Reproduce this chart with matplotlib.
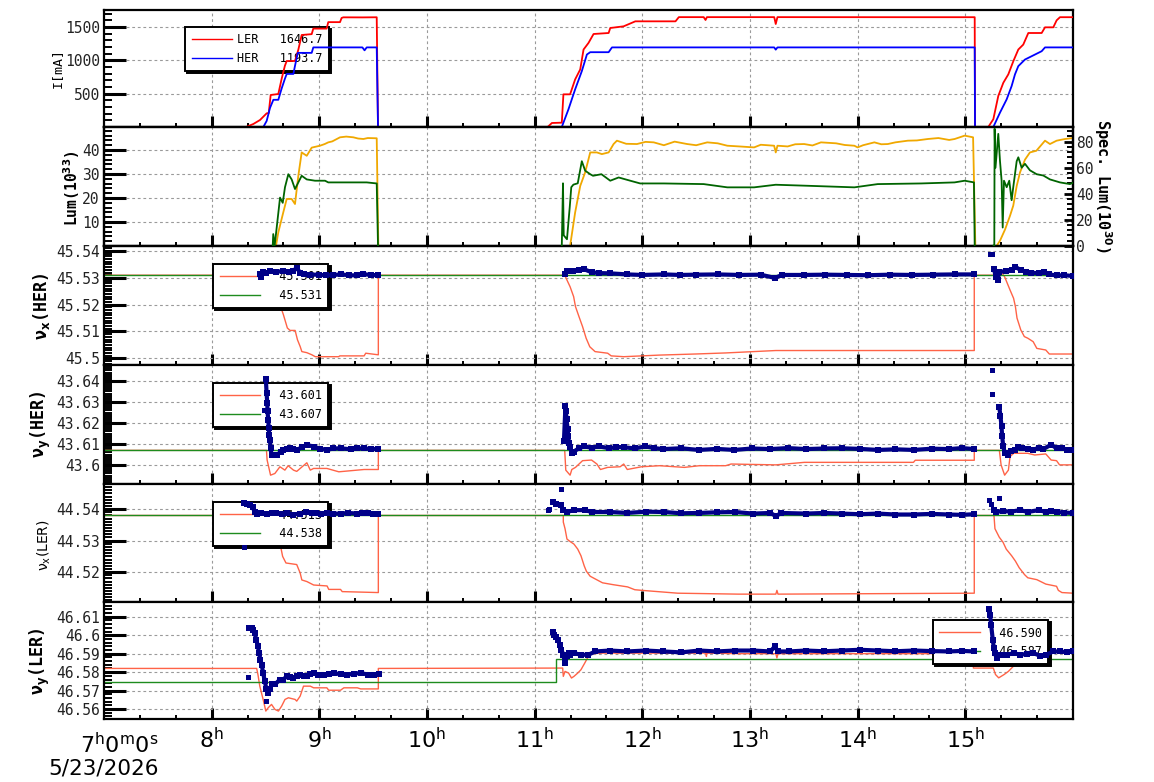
import matplotlib
matplotlib.use('Agg')
import matplotlib.pyplot as plt
from matplotlib.ticker import MultipleLocator, FixedLocator, FuncFormatter
from matplotlib.lines import Line2D

plt.rcParams['font.family'] = ['DejaVu Sans Mono', 'DejaVu Sans']
plt.rcParams['mathtext.fontset'] = 'dejavusans'

# ---------------- data (time in hours of 5/23/2026) ----------------
# Panel 1: beam currents [mA]
ler_cur_t = [7.0, 8.32, 8.387, 8.449, 8.511, 8.530, 8.548, 8.619, 8.65, 8.68, 8.697, 8.774, 8.805, 8.836, 8.929,
             8.944, 9.068, 9.083, 9.192, 9.207, 9.223, 9.40, 9.533, 9.545,
             11.12, 11.127, 11.16, 11.252, 11.267, 11.329, 11.376, 11.423, 11.454, 11.5, 11.547, 11.687, 11.702,
             11.826, 11.935, 12.308, 12.339, 12.57, 12.587, 12.60, 13.225, 13.239, 13.255, 14.5, 15.087, 15.09,
             15.213, 15.26, 15.306, 15.353, 15.399, 15.446, 15.492, 15.538, 15.585, 15.709, 15.74, 15.817, 15.848,
             15.879, 16.0]
ler_cur_v = [0, 0, 45, 105, 205, 210, 480, 495, 723, 918, 990, 990, 1160, 1380, 1393,
             1476, 1476, 1573, 1573, 1636, 1645, 1644, 1646, 0,
             0, 10, 60, 65, 490, 490, 714, 863, 1162, 1261, 1395, 1410, 1485,
             1510, 1585, 1585, 1648, 1648, 1605, 1648, 1648, 1545, 1648, 1647, 1647, 0,
             0, 117, 465, 664, 789, 988, 1162, 1236, 1410, 1410, 1495, 1495, 1600,
             1647, 1647]
her_cur_t = [7.0, 8.48, 8.511, 8.542, 8.573, 8.619, 8.65, 8.68, 8.697, 8.759, 8.774, 8.8, 8.929, 8.944, 9.40,
             9.42, 9.44, 9.533, 9.545,
             11.252, 11.314, 11.376, 11.438, 11.485, 11.516, 11.687, 11.718, 13.225, 13.239, 13.255, 15.087, 15.09,
             15.26, 15.322, 15.384, 15.43, 15.461, 15.492, 15.554, 15.647, 15.709, 15.74, 16.0]
her_cur_v = [0, 0, 92, 287, 408, 408, 578, 723, 796, 796, 918, 1112, 1112, 1194, 1194,
             1150, 1194, 1194, 0,
             0, 266, 565, 838, 1087, 1122, 1122, 1194, 1194, 1160, 1194, 1194, 0,
             0, 216, 415, 614, 789, 913, 1012, 1087, 1137, 1194, 1194]

# Panel 2: luminosity (left axis) and specific luminosity (right axis)
lum_t = [7.0, 8.597, 8.619, 8.665, 8.697, 8.743, 8.774, 8.805, 8.836, 8.883, 8.929, 9.006, 9.05, 9.083, 9.12,
         9.192, 9.25, 9.316, 9.36, 9.409, 9.45, 9.533, 9.548,
         11.329, 11.376, 11.423, 11.469, 11.516, 11.578, 11.624, 11.687, 11.733, 11.764, 11.85, 11.95, 12.03,
         12.106, 12.2, 12.3, 12.416, 12.5, 12.603, 12.7, 12.789, 12.9, 13.038, 13.1, 13.224, 13.239, 13.255,
         13.35, 13.42, 13.503, 13.58, 13.659, 13.8, 13.88, 13.969, 14.0, 14.05, 14.155, 14.22, 14.28, 14.35,
         14.466, 14.55, 14.652, 14.75, 14.85, 14.901, 14.994, 15.072, 15.093,
         15.29, 15.322, 15.37, 15.415, 15.445, 15.477, 15.508, 15.554, 15.60, 15.66, 15.74, 15.786, 15.848,
         15.926, 16.0]
lum_v = [0, 0, 5.7, 14, 19.6, 19.6, 17.5, 29.3, 39, 37.6, 41, 41.8, 42.5, 43.2, 43.6,
         45.3, 45.6, 45.3, 44.8, 44.6, 45.0, 44.9, 0,
         0, 14, 25, 30.7, 39, 39, 38.3, 39, 42.5, 43.9, 42.6, 42.5, 43.4,
         43.2, 42.0, 43.5, 42.5, 42.0, 43.2, 42.8, 41.8, 41.5, 41.1, 42.2, 41.8, 39, 41.8,
         41.5, 42.4, 42.5, 41.9, 43.2, 42.8, 42.1, 41.8, 41.1, 42.0, 43.2, 42.4, 42.5, 43.2,
         43.9, 44.0, 44.6, 45.0, 44.2, 44.6, 46, 45.3, 0,
         0, 2.2, 7, 12.6, 16.8, 25, 30.7, 36, 39, 39.7, 43.9, 42.5, 43.9,
         44.6, 45]
slum1_t = [8.567, 8.572, 8.585, 8.604, 8.635, 8.66, 8.681, 8.712, 8.743, 8.774, 8.805, 8.836, 8.883, 8.96,
           9.053, 9.083, 9.254, 9.44, 9.533, 9.545]
slum1_v = [0, 9, 0, 14, 37, 33, 45, 55, 51, 43.6, 48.7, 53.8, 51, 50,
           50, 48.7, 48.7, 48.7, 47.9, 0]
slum2_t = [11.252, 11.263, 11.27, 11.30, 11.326, 11.34, 11.36, 11.40, 11.438, 11.469, 11.516, 11.542, 11.62,
           11.702, 11.78, 11.888, 11.98, 12.2, 12.57, 12.789, 13.038, 13.239, 13.503, 13.969, 14.186, 14.59,
           14.90, 14.994, 15.08, 15.087]
slum2_v = [0, 48, 8, 5, 30, 45, 47, 48, 65, 57.7, 55, 53.8, 55,
           50, 52.5, 50, 47.9, 47.9, 47.4, 44.9, 44.9, 46.9, 46.2, 44.9, 47.4, 47.9,
           48.7, 50, 48.7, 0]
slum3_t = [15.262, 15.269, 15.272, 15.28, 15.306, 15.322, 15.337, 15.347, 15.359, 15.384, 15.408, 15.43, 15.445,
           15.477, 15.492, 15.523, 15.554, 15.60, 15.662, 15.724, 15.786, 15.879, 15.972, 16.0]
slum3_v = [0, 0, 90, 60, 86, 65, 50, 14, 50, 45, 50, 35, 45,
           65, 68, 60, 63, 58, 55, 54, 51, 48.7, 47.4, 48.5]

# Panel 3: nu_x(HER)
hx_set_t = [7.0, 16.0]
hx_set_v = [45.531, 45.531]
hx_ref_t = [7.0, 8.525, 8.547, 8.566, 8.5875, 8.619, 8.634, 8.666, 8.703, 8.728, 8.775, 8.797, 8.822, 8.8375,
            8.884, 8.931, 8.9625, 9.18, 9.19, 9.416, 9.431, 9.548, 9.548,
            11.279, 11.329, 11.362, 11.379, 11.412, 11.445, 11.478, 11.512, 11.561, 11.678, 11.711, 11.827,
            11.993, 12.16, 12.49, 12.774, 13.24, 15.083, 15.083,
            15.316, 15.32, 15.33, 15.365, 15.415, 15.448, 15.465, 15.48, 15.515, 15.548, 15.58, 15.63, 15.664,
            15.747, 15.78, 16.0]
hx_ref_v = [45.531, 45.531, 45.530, 45.5269, 45.5244, 45.5219, 45.520, 45.5163, 45.5113, 45.5104, 45.5104,
            45.5069, 45.5044, 45.5025, 45.5021, 45.5013, 45.5006, 45.5006, 45.5009, 45.5009, 45.5019, 45.5013,
            45.531,
            45.531, 45.5267, 45.523, 45.5193, 45.5155, 45.5118, 45.5075, 45.5043, 45.5025, 45.5019, 45.5009,
            45.5006, 45.5009, 45.5012, 45.5016, 45.502, 45.5029, 45.5029, 45.531,
            45.531, 45.5325, 45.5325, 45.5304, 45.5255, 45.5224, 45.5193, 45.515, 45.5106, 45.5081, 45.5075,
            45.5062, 45.5037, 45.5031, 45.5016, 45.5016]
hx_meas1_t = [8.447, 8.462, 8.478, 8.50, 8.54, 8.60, 8.66, 8.72, 8.76, 8.79, 8.82, 8.86, 8.91, 9.0, 9.06, 9.13,
              9.2, 9.28, 9.35, 9.41, 9.48, 9.545]
hx_meas1_v = [45.5313, 45.5304, 45.5321, 45.5318, 45.5325, 45.5322, 45.5326, 45.5323, 45.5327, 45.5338, 45.532,
              45.5315, 45.5312, 45.5312, 45.5309, 45.5311, 45.5313, 45.531, 45.5309, 45.5314, 45.5311, 45.531]
hx_meas2_t = [11.279, 11.30, 11.36, 11.41, 11.46, 11.53, 11.60, 11.70, 11.86, 12.0, 12.2, 12.35, 12.5, 12.7, 12.9,
              13.1, 13.23, 13.3, 13.5, 13.7, 13.9, 14.1, 14.3, 14.5, 14.7, 14.9, 15.083]
hx_meas2_v = [45.5315, 45.5327, 45.5326, 45.5329, 45.5332, 45.5321, 45.5318, 45.5317, 45.5313, 45.5311, 45.5313,
              45.5311, 45.5312, 45.5313, 45.5311, 45.5312, 45.5300, 45.5311, 45.5311, 45.5312, 45.5311, 45.5310,
              45.5312, 45.5311, 45.5312, 45.5313, 45.5313]
hx_meas3_t = [15.266, 15.282, 15.30, 15.316, 15.38, 15.43, 15.465, 15.515, 15.56, 15.61, 15.68, 15.73, 15.78,
              15.85, 15.92, 16.0]
hx_meas3_v = [45.5335, 45.5304, 45.5292, 45.5323, 45.5325, 45.533, 45.5341, 45.5329, 45.5322, 45.532, 45.5317,
              45.5323, 45.5313, 45.5309, 45.531, 45.5307]
hx_out_t = [15.233, 15.25]
hx_out_v = [45.5389, 45.5389]

# Panel 4: nu_y(HER)
hy_set_t = [7.0, 16.0]
hy_set_v = [43.607, 43.607]
hy_ref_t = [7.0, 8.509, 8.515, 8.547, 8.587, 8.634, 8.68, 8.71, 8.76, 8.79, 8.884, 8.916, 8.947, 9.07, 9.181,
            9.416, 9.548, 9.548,
            11.279, 11.289, 11.329, 11.345, 11.379, 11.445, 11.528, 11.578, 11.611, 11.678, 11.794, 11.827,
            11.86, 11.993, 12.16, 12.39, 12.53, 12.774, 12.824, 13.24, 13.505, 14.518, 14.535, 15.083, 15.083,
            15.316, 15.332, 15.365, 15.40, 15.415, 15.448, 15.58, 15.645, 15.747, 15.797, 15.847, 15.875, 16.0]
hy_ref_v = [43.607, 43.607, 43.6024, 43.5952, 43.596, 43.5992, 43.5976, 43.5997, 43.5976, 43.597, 43.6011,
            43.5976, 43.5984, 43.5984, 43.5968, 43.5979, 43.5979, 43.607,
            43.607, 43.5976, 43.5952, 43.5979, 43.5989, 43.6021, 43.6024, 43.6005, 43.5979, 43.5989, 43.5992,
            43.6005, 43.5979, 43.5992, 43.5997, 43.5989, 43.5997, 43.5997, 43.6005, 43.6001, 43.6013, 43.6013,
            43.6023, 43.6023, 43.607,
            43.607, 43.6001, 43.5952, 43.5976, 43.604, 43.6056, 43.6056, 43.6048, 43.6053, 43.6024, 43.6021,
            43.6001, 43.6001]
hy_meas1_t = [8.503, 8.51, 8.516, 8.519, 8.525, 8.531, 8.534, 8.541, 8.547, 8.556, 8.58, 8.603, 8.64, 8.666,
              8.70, 8.728, 8.76, 8.79, 8.84, 8.884, 8.947, 9.01, 9.07, 9.13, 9.197, 9.29, 9.35, 9.416, 9.48, 9.548]
hy_meas1_v = [43.6411, 43.6344, 43.6296, 43.6256, 43.6216, 43.6176, 43.6144, 43.612, 43.608, 43.6048, 43.6046,
              43.6048, 43.6062, 43.6072, 43.6078, 43.608, 43.6075, 43.6072, 43.6085, 43.6096, 43.6088, 43.6078,
              43.6072, 43.6079, 43.608, 43.6075, 43.6079, 43.608, 43.6076, 43.6077]
hy_meas2_t = [11.272, 11.286, 11.29, 11.296, 11.306, 11.312, 11.319, 11.329, 11.346, 11.362, 11.412, 11.462,
              11.53, 11.595, 11.694, 11.76, 11.827, 11.93, 12.026, 12.11, 12.192, 12.358, 12.524, 12.69, 12.856,
              13.02, 13.19, 13.35, 13.52, 13.69, 13.85, 14.02, 14.19, 14.35, 14.52, 14.69, 14.85, 14.97, 15.083]
hy_meas2_v = [43.6116, 43.6282, 43.6258, 43.6218, 43.617, 43.6137, 43.6105, 43.6085, 43.6056, 43.6064, 43.608,
              43.6089, 43.6082, 43.6089, 43.608, 43.6086, 43.6085, 43.6079, 43.6089, 43.6081, 43.6076, 43.608,
              43.6072, 43.6077, 43.6072, 43.6079, 43.6076, 43.6081, 43.6076, 43.6079, 43.608, 43.6077, 43.6072,
              43.6075, 43.6072, 43.6078, 43.6076, 43.6081, 43.6076]
hy_meas3_t = [15.316, 15.326, 15.336, 15.342, 15.352, 15.366, 15.392, 15.425, 15.458, 15.49, 15.525, 15.58,
              15.624, 15.68, 15.724, 15.797, 15.847, 15.90, 15.94, 16.0]
hy_meas3_v = [43.6274, 43.6234, 43.6185, 43.6137, 43.6089, 43.6056, 43.6048, 43.6065, 43.6072, 43.6085, 43.608,
              43.6078, 43.6072, 43.6082, 43.6076, 43.6097, 43.608, 43.6083, 43.6072, 43.6072]
hy_out_t = [8.484, 15.246, 15.246]
hy_out_v = [43.626, 43.6452, 43.634]

# Panel 5: nu_x(LER)
lx_set_t = [7.0, 16.0]
lx_set_v = [44.538, 44.538]
lx_ref_t = [7.0, 8.41, 8.41, 8.525, 8.556, 8.5875, 8.634, 8.659, 8.69, 8.79, 8.822, 8.8375, 8.884, 8.947, 9.072,
            9.0875, 9.197, 9.2125, 9.548, 9.548,
            11.266, 11.266, 11.282, 11.30, 11.33, 11.365, 11.40, 11.43, 11.46, 11.48, 11.515, 11.564, 11.63,
            11.73, 11.863, 11.93, 11.996, 12.328, 12.89, 13.24, 13.25, 13.26, 15.083, 15.083,
            15.266, 15.275, 15.315, 15.35, 15.38, 15.43, 15.465, 15.50, 15.55, 15.58, 15.664, 15.747, 15.847,
            15.864, 15.897, 16.0]
lx_ref_v = [44.538, 44.538, 44.5341, 44.5336, 44.5304, 44.530, 44.5293, 44.525, 44.5229, 44.5224, 44.5197,
            44.5175, 44.517, 44.5159, 44.5156, 44.5145, 44.5145, 44.5138, 44.5135, 44.538,
            44.538, 44.5359, 44.5338, 44.5305, 44.5297, 44.5289, 44.5273, 44.5252, 44.522, 44.5203, 44.5187,
            44.5178, 44.5166, 44.516, 44.5153, 44.5144, 44.5142, 44.5133, 44.513, 44.513, 44.5142, 44.513,
            44.5133, 44.538,
            44.538, 44.5338, 44.5311, 44.5295, 44.5273, 44.5252, 44.5235, 44.5214, 44.5192, 44.5182, 44.5176,
            44.5162, 44.5155, 44.5142, 44.5135, 44.5133]
lx_meas1_t = [8.30, 8.33, 8.36, 8.38, 8.40, 8.42, 8.46, 8.51, 8.56, 8.60, 8.65, 8.70, 8.76, 8.82, 8.88, 8.93,
              8.97, 9.02, 9.07, 9.13, 9.2, 9.27, 9.35, 9.40, 9.45, 9.50, 9.548]
lx_meas1_v = [44.5421, 44.5418, 44.5412, 44.5408, 44.539, 44.5385, 44.5388, 44.5386, 44.5389, 44.5389,
              44.5386, 44.5388, 44.5383, 44.5386, 44.539, 44.5387, 44.5388, 44.5386, 44.5389, 44.5386, 44.5386,
              44.5388, 44.5386, 44.5389, 44.5389, 44.5386, 44.5386]
lx_meas2_t = [11.166, 11.2, 11.24, 11.266, 11.30, 11.365, 11.465, 11.53, 11.70, 11.86, 12.03, 12.2, 12.36,
              12.53, 12.69, 12.86, 13.03, 13.19, 13.24, 13.29, 13.52, 13.69, 13.85, 14.02, 14.19, 14.35, 14.52,
              14.69, 14.85, 14.97, 15.083]
lx_meas2_v = [44.5422, 44.5418, 44.5413, 44.5397, 44.5391, 44.5397, 44.5397, 44.5391, 44.5391, 44.5388,
              44.5392, 44.5391, 44.5387, 44.5388, 44.539, 44.5391, 44.5386, 44.5388, 44.5378, 44.5388, 44.5386,
              44.5388, 44.5386, 44.5384, 44.5386, 44.5383, 44.5383, 44.5385, 44.5383, 44.5382, 44.5384]
lx_meas3_t = [15.266, 15.282, 15.35, 15.42, 15.51, 15.58, 15.68, 15.747, 15.80, 15.847, 15.92, 16.0]
lx_meas3_v = [44.5397, 44.5391, 44.5394, 44.5392, 44.5397, 44.5391, 44.5397, 44.5391, 44.5393, 44.5391,
              44.5389, 44.5388]
lx_out_t = [8.30, 11.12, 11.13, 11.242, 15.222, 15.242, 15.315]
lx_out_v = [44.528, 44.5397, 44.5401, 44.5465, 44.5429, 44.5418, 44.5437]

# Panel 6: nu_y(LER)
ly_set_t = [7.0, 11.2, 11.2, 16.0]
ly_set_v = [46.5747, 46.5747, 46.587, 46.587]
ly_ref_t = [7.0, 8.418, 8.43, 8.447, 8.478, 8.503, 8.525, 8.556, 8.5875, 8.62, 8.65, 8.681, 8.7125, 8.775, 8.79,
            8.822, 8.853, 8.916, 8.947, 9.07, 9.087, 9.197, 9.228, 9.353, 9.384, 9.548, 9.548,
            11.26, 11.266, 11.282, 11.315, 11.342, 11.365, 11.40, 11.43, 11.465, 11.498, 11.531, 11.63, 12.0,
            12.59, 12.595, 12.60, 12.89, 13.24, 13.25, 13.26, 15.075, 15.075,
            15.26, 15.28, 15.31, 15.36, 15.40, 15.46, 15.49, 15.52, 15.56, 15.74, 15.745, 15.78, 15.85, 16.0]
ly_ref_v = [46.582, 46.582, 46.5786, 46.5724, 46.5652, 46.5589, 46.5607, 46.5625, 46.5598, 46.5589, 46.5616,
            46.5652, 46.5661, 46.5652, 46.5643, 46.567, 46.5724, 46.5724, 46.5715, 46.5715, 46.5702, 46.5702,
            46.5715, 46.5715, 46.5709, 46.5709, 46.582,
            46.5822, 46.5777, 46.5804, 46.5795, 46.5768, 46.5777, 46.5795, 46.5813, 46.5849, 46.5885, 46.590,
            46.5903, 46.5903, 46.5903, 46.5885, 46.5903, 46.590, 46.590, 46.5877, 46.590, 46.590, 46.5822,
            46.5822, 46.5787, 46.5769, 46.5787, 46.5804, 46.584, 46.5858, 46.5876, 46.589, 46.589, 46.5926,
            46.590, 46.591, 46.591]
ly_meas1_t = [8.347, 8.37, 8.385, 8.40, 8.415, 8.43, 8.44, 8.453, 8.465, 8.478, 8.494, 8.509, 8.525, 8.54, 8.556,
              8.5875, 8.634, 8.666, 8.697, 8.73, 8.76, 8.79, 8.822, 8.853, 8.884, 8.916, 8.947, 8.99, 9.04, 9.09,
              9.134, 9.2, 9.26, 9.32, 9.384, 9.45, 9.509, 9.556]
ly_meas1_v = [46.6037, 46.6037, 46.603, 46.601, 46.5975, 46.5939, 46.5903, 46.5867, 46.584, 46.5795, 46.575,
              46.5706, 46.5688, 46.5706, 46.5733, 46.5733, 46.576, 46.576, 46.5777, 46.5772, 46.5768, 46.578,
              46.5786, 46.5779, 46.5777, 46.5788, 46.5795, 46.5784, 46.5786, 46.5791, 46.5795, 46.5788, 46.5786,
              46.5792, 46.5795, 46.5787, 46.5786, 46.5789]
ly_meas2_t = [11.166, 11.183, 11.199, 11.216, 11.232, 11.249, 11.266, 11.282, 11.299, 11.315, 11.332, 11.365,
              11.432, 11.498, 11.564, 11.697, 11.86, 12.03, 12.196, 12.36, 12.53, 12.69, 12.86, 13.03, 13.19,
              13.23, 13.26, 13.36, 13.52, 13.69, 13.85, 14.02, 14.19, 14.35, 14.52, 14.69, 14.85, 14.97, 15.083]
ly_meas2_v = [46.6019, 46.6001, 46.5992, 46.5975, 46.5948, 46.5921, 46.5894, 46.5849, 46.5885, 46.5903,
              46.5894, 46.5903, 46.5894, 46.5894, 46.5912, 46.5917, 46.5912, 46.5917, 46.5912, 46.5907, 46.5917,
              46.5912, 46.5917, 46.5917, 46.5912, 46.5939, 46.5912, 46.5912, 46.5917, 46.5913, 46.5917, 46.5921,
              46.5917, 46.5913, 46.5917, 46.5914, 46.5912, 46.5915, 46.5912]
ly_meas3_t = [15.222, 15.23, 15.24, 15.255, 15.265, 15.275, 15.29, 15.33, 15.384, 15.45, 15.51, 15.57, 15.631,
              15.69, 15.75, 15.817, 15.88, 15.94, 16.0]
ly_meas3_v = [46.614, 46.6109, 46.6055, 46.5975, 46.593, 46.5903, 46.5876, 46.5894, 46.5894, 46.5903, 46.5894,
              46.5899, 46.5903, 46.589, 46.5894, 46.5912, 46.5912, 46.5908, 46.5912]
ly_out_t = [8.3375, 8.509]
ly_out_v = [46.5774, 46.5643]

# legends
cur_labels = ['LER   1646.7', 'HER   1193.7']
hx_labels = ['45.501', '45.531']
hy_labels = ['43.601', '43.607']
lx_labels = ['44.513', '44.538']
ly_labels = ['46.590', '46.587']

hour_ticks = [8, 9, 10, 11, 12, 13, 14, 15]

# ---------------- styling ----------------
RED_I = '#ff0000'
BLUE_I = '#0000ff'
ORANGE = '#f0a800'
DKGREEN = '#006400'
NAVY = '#000088'
TOMATO = '#ff6347'
GREEN = '#1e8c1e'

W, H = 1154, 782
fig = plt.figure(figsize=(W / 100, H / 100), dpi=100)
left_px, right_px = 104, 1073
edges = [10, 127, 246, 365, 484, 602, 719]
axes = []
for i in range(6):
    top, bot = edges[i], edges[i + 1]
    ax = fig.add_axes([left_px / W, 1 - bot / H, (right_px - left_px) / W, (bot - top) / H])
    axes.append(ax)


def tfmt(v, p):
    return ('%.2f' % v).rstrip('0').rstrip('.')


def style(ax, ylim, majors, minor):
    ax.set_xlim(7, 16)
    ax.set_ylim(*ylim)
    ax.xaxis.set_major_locator(FixedLocator(hour_ticks))
    ax.xaxis.set_minor_locator(MultipleLocator(1 / 3))
    ax.yaxis.set_major_locator(FixedLocator(majors))
    ax.yaxis.set_minor_locator(MultipleLocator(minor))
    ax.yaxis.set_major_formatter(FuncFormatter(tfmt))
    ax.tick_params(axis='x', which='major', direction='in', length=8, width=2.2, top=False, bottom=True,
                   labelbottom=False)
    ax.tick_params(axis='x', which='minor', direction='in', length=2.6, width=1.4, top=False)
    ax.tick_params(axis='y', which='major', direction='in', length=16, width=2.2, right=False,
                   labelsize=10.5, pad=3, labelcolor='#222222')
    ax.tick_params(axis='y', which='minor', direction='in', length=5.5, width=1.4, right=False)
    ax.grid(True, which='major', color='#9a9a9a', linestyle=(0, (2.5, 2.5)), linewidth=0.8)
    for s in ax.spines.values():
        s.set_linewidth(1.6)
    ax.set_axisbelow(True)


def legend(ax, handles, labels, x, y):
    lg = ax.legend(handles, labels, loc='upper left', bbox_to_anchor=(x, y), prop={'family': 'DejaVu Sans Mono',
                   'size': 8.5}, frameon=True, fancybox=False, framealpha=1, edgecolor='black',
                   handlelength=3.4, handletextpad=0.45, borderpad=0.55, labelspacing=0.45, borderaxespad=0,
                   shadow={'ox': 1.5, 'oy': -1.5, 'color': 'black', 'alpha': 1})
    lg.get_frame().set_linewidth(1.4)
    lg.set_zorder(3)
    return lg


# Panel 1
ax = axes[0]
style(ax, (0, 1755), [500, 1000, 1500], 100)
ax.plot(ler_cur_t, ler_cur_v, color=RED_I, lw=1.3, zorder=4)
ax.plot(her_cur_t, her_cur_v, color=BLUE_I, lw=1.3, zorder=4)
legend(ax, [Line2D([], [], color=RED_I, lw=1), Line2D([], [], color=BLUE_I, lw=1)], cur_labels, 0.0836, 0.855)

# Panel 2
ax = axes[1]
style(ax, (0, 49.6), [10, 20, 30, 40], 2)
ax.plot(lum_t, lum_v, color=ORANGE, lw=1.3, zorder=3)
ax2 = ax.twinx()
ax2.set_ylim(-0.2, 91.3)
ax2.yaxis.set_major_locator(FixedLocator([0, 20, 40, 60, 80]))
ax2.yaxis.set_minor_locator(MultipleLocator(4))
ax2.tick_params(axis='y', which='major', direction='in', length=6.5, width=2.0, labelsize=10.5, pad=2,
                labelcolor='#222222')
ax2.tick_params(axis='y', which='minor', direction='in', length=4, width=1.4)
for s in ax2.spines.values():
    s.set_linewidth(1.6)
for tt, vv in [(slum1_t, slum1_v), (slum2_t, slum2_v), (slum3_t, slum3_v)]:
    ax2.plot(tt, vv, color=DKGREEN, lw=1.3, zorder=3)


def tune_panel(ax, ylim, majors, minor, ref_t, ref_v, set_t, set_v, meas, out_t, out_v):
    style(ax, ylim, majors, minor)
    ax.plot(ref_t, ref_v, color=TOMATO, lw=1.0, zorder=2)
    ax.plot(set_t, set_v, color=GREEN, lw=1.0, zorder=2.1)
    for tt, vv in meas:
        ax.plot(tt, vv, color=NAVY, lw=3.0, marker='s', ms=3.8, mew=0, zorder=4)
    ax.plot(out_t, out_v, ls='none', color=NAVY, marker='s', ms=3.6, mew=0, zorder=4)


handles_t = [Line2D([], [], color=TOMATO, lw=1), Line2D([], [], color=GREEN, lw=1)]

tune_panel(axes[2], (45.4975, 45.5419), [45.50, 45.51, 45.52, 45.53, 45.54], 0.001, hx_ref_t, hx_ref_v,
           hx_set_t, hx_set_v, [(hx_meas1_t, hx_meas1_v), (hx_meas2_t, hx_meas2_v), (hx_meas3_t, hx_meas3_v)],
           hx_out_t, hx_out_v)
legend(axes[2], handles_t, ['  ' + s for s in hx_labels], 0.1125, 0.849)

tune_panel(axes[3], (43.591, 43.6476), [43.60, 43.61, 43.62, 43.63, 43.64], 0.001, hy_ref_t, hy_ref_v,
           hy_set_t, hy_set_v, [(hy_meas1_t, hy_meas1_v), (hy_meas2_t, hy_meas2_v), (hy_meas3_t, hy_meas3_v)],
           hy_out_t, hy_out_v)
legend(axes[3], handles_t, ['  ' + s for s in hy_labels], 0.1125, 0.849)

tune_panel(axes[4], (44.5105, 44.548), [44.52, 44.53, 44.54], 0.001, lx_ref_t, lx_ref_v,
           lx_set_t, lx_set_v, [(lx_meas1_t, lx_meas1_v), (lx_meas2_t, lx_meas2_v), (lx_meas3_t, lx_meas3_v)],
           lx_out_t, lx_out_v)
legend(axes[4], handles_t, ['  ' + s for s in lx_labels], 0.1125, 0.847)

tune_panel(axes[5], (46.5546, 46.618), [46.56, 46.57, 46.58, 46.59, 46.60, 46.61], 0.002, ly_ref_t, ly_ref_v,
           ly_set_t, ly_set_v, [(ly_meas1_t, ly_meas1_v), (ly_meas2_t, ly_meas2_v), (ly_meas3_t, ly_meas3_v)],
           ly_out_t, ly_out_v)
legend(axes[5], handles_t, ['  ' + s for s in ly_labels], 0.8555, 0.846)

# bottom x labels
axb = axes[5]
axb.xaxis.set_major_formatter(FuncFormatter(lambda v, p: r'$\mathregular{%d^h}$' % int(round(v))))
axb.tick_params(axis='x', which='major', labelbottom=True, labelsize=16, pad=6)
for lbl in axb.get_xticklabels():
    lbl.set_fontfamily('DejaVu Sans')
fig.text(119 / W, 1 - 745 / H, r'$\mathregular{7^h0^m0^s}$', ha='center', va='center', fontsize=16,
         family='DejaVu Sans')
fig.text(104 / W, 1 - 768 / H, '5/23/2026', ha='center', va='center', fontsize=15.5, family='DejaVu Sans')

# y labels
fig.text(57 / W, 1 - 68 / H, 'I[mA]', rotation=90, ha='center', va='center', fontsize=9.5)
fig.text(72 / W, 1 - 188 / H, r'Lum(10$^{\mathbf{33}}$)', rotation=90, ha='center', va='center', fontsize=10.5,
         fontweight='bold')
fig.text(1103 / W, 1 - 186 / H, r'Spec. Lum(10$^{\mathbf{30}}$)', rotation=270, ha='center', va='center',
         fontsize=11, fontweight='bold')
fig.text(41 / W, 1 - 306 / H, r'ν$_{\mathbf{x}}$(HER)', rotation=90, ha='center', va='center', fontsize=12,
         fontweight='bold')
fig.text(41 / W, 1 - 424 / H, r'ν$_{\mathbf{y}}$(HER)', rotation=90, ha='center', va='center', fontsize=12,
         fontweight='bold')
fig.text(44 / W, 1 - 545 / H, r'ν$_{\mathregular{x}}$(LER)', rotation=90, ha='center', va='center',
         fontsize=10, family='DejaVu Sans')
fig.text(40 / W, 1 - 661 / H, r'ν$_{\mathbf{y}}$(LER)', rotation=90, ha='center', va='center', fontsize=12,
         fontweight='bold')

fig.savefig('out.png', dpi=100)
